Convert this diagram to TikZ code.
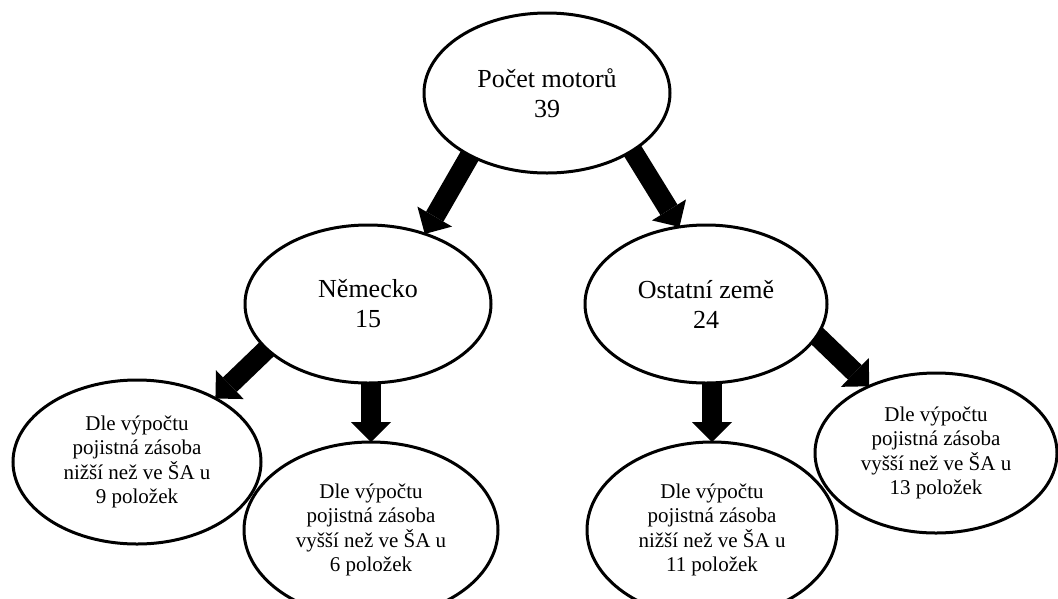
\documentclass[tikz,border=0pt]{standalone}
\usepackage{fontspec}
\setmainfont{Liberation Serif}
\usetikzlibrary{shapes.geometric,arrows.meta,calc,backgrounds}
\begin{document}
\begin{tikzpicture}[x=1pt,y=-1pt,
  bub/.style={ellipse, draw, line width=3pt, fill=white, inner sep=0pt, outer sep=0pt, align=center},
  bigtxt/.style={font=\fontsize{26}{30}\selectfont},
  smalltxt/.style={font=\fontsize{21}{24.5}\selectfont},
  flow/.style={line width=20pt, -{Triangle[length=20pt,width=40pt,line width=0pt]}}]
\useasboundingbox (0,0) rectangle (1058,598);
\clip (0,0) rectangle (1058,598);
\node[bub,bigtxt,minimum width=246pt,minimum height=160pt] (top) at (547,93) {Počet motorů\\39};
\node[bub,bigtxt,minimum width=246pt,minimum height=158pt] (nem) at (368,304) {Německo\\15};
\node[bub,bigtxt,minimum width=242pt,minimum height=158pt] (ost) at (706,304) {Ostatní země\\24};
\node[bub,smalltxt,minimum width=248pt,minimum height=164pt] (a) at (137,462) {Dle výpočtu\\pojistná zásoba\\nižší než ve ŠA u\\9 položek};
\node[bub,smalltxt,minimum width=254pt,minimum height=176pt] (b) at (371,530) {Dle výpočtu\\pojistná zásoba\\vyšší než ve ŠA u\\6 položek};
\node[bub,smalltxt,minimum width=250pt,minimum height=176pt] (c) at (712,530) {Dle výpočtu\\pojistná zásoba\\nižší než ve ŠA u\\11 položek};
\node[bub,smalltxt,minimum width=242pt,minimum height=160pt] (d) at (936,453) {Dle výpočtu\\pojistná zásoba\\vyšší než ve ŠA u\\13 položek};
\begin{pgfonlayer}{background}
\fill[white] (0,0) rectangle (1058,598);
\draw[flow] ($(top.219)!-15pt!(nem.51)$) -- (nem.51);
\draw[flow] ($(top.326)!-15pt!(ost.109)$) -- (ost.109);
\draw[flow] ($(nem.204)!-15pt!(a.39)$) -- (a.39);
\draw[flow] (b.north |- nem.center) -- (b.north);
\draw[flow] (c.north |- ost.center) -- (c.north);
\draw[flow] ($(ost.344)!-15pt!(d.135)$) -- (d.135);
\end{pgfonlayer}
\end{tikzpicture}
\end{document}
